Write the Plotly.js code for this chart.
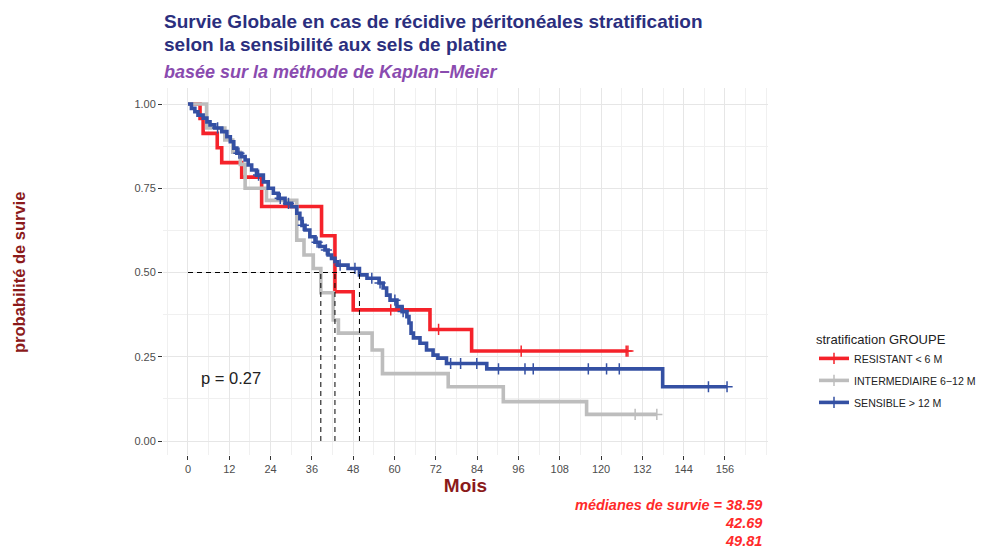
<!DOCTYPE html>
<html>
<head>
<meta charset="utf-8">
<script src="https://cdn.plot.ly/plotly-3.0.1.min.js"></script>
<style>html,body{margin:0;padding:0;background:#fff;}#chart{width:983px;height:550px;}</style>
</head>
<body>
<div id="chart"></div>
<script>
// ---- Data ----
const groupNames = ['RESISTANT < 6 M', 'INTERMEDIAIRE 6\u221212 M', 'SENSIBLE > 12 M'];

const resistantTime = [0, 3.5, 4.4, 8.5, 9.8, 15.6, 21.4, 38.8, 42.69, 48.0, 70.3, 82.4, 127.8];
const resistantSurv = [1, 0.957, 0.913, 0.870, 0.826, 0.783, 0.696, 0.609, 0.443, 0.389, 0.331, 0.267, 0.267];
const resistantCensor = [58.9, 72.8, 96.8, 127.3, 127.8];

const intermTime = [0, 5.4, 10.7, 13.0, 15.2, 16.6, 22.8, 31.6, 33.7, 36.4, 38.59, 42.2, 43.7, 53.5, 56.5, 75.6, 91.6, 115.8, 136.2];
const intermSurv = [1, 0.929, 0.893, 0.857, 0.821, 0.75, 0.714, 0.596, 0.552, 0.512, 0.44, 0.359, 0.32, 0.27, 0.2, 0.161, 0.117, 0.079, 0.079];
const intermCensor = [129.9, 136.2];

const sensibleTime = [0, 1.0, 2.0, 2.9, 4.4, 5.5, 6.4, 7.8, 9.8, 11.3, 12.3, 13.3, 14.2, 15.6, 16.6, 17.5, 18.5, 19.9, 21.9, 23.3, 24.8, 26.2, 28.2, 30.1, 31.6, 32.5, 33.1, 34.0, 35.4, 36.9, 38.3, 39.8, 40.7, 41.7, 42.7, 43.5, 46.5, 49.81, 52.0, 55.5, 56.7, 57.7, 58.7, 60.7, 62.2, 63.6, 64.2, 64.8, 65.5, 67.4, 69.3, 71.2, 72.6, 75.1, 86.8, 137.9, 156.6];
const sensibleSurv = [1, 0.987, 0.977, 0.967, 0.958, 0.947, 0.938, 0.929, 0.918, 0.903, 0.888, 0.869, 0.854, 0.844, 0.834, 0.819, 0.804, 0.789, 0.769, 0.75, 0.735, 0.72, 0.705, 0.695, 0.676, 0.66, 0.64, 0.626, 0.606, 0.59, 0.577, 0.567, 0.552, 0.542, 0.532, 0.522, 0.512, 0.493, 0.483, 0.469, 0.454, 0.433, 0.418, 0.399, 0.384, 0.369, 0.35, 0.32, 0.306, 0.29, 0.27, 0.255, 0.246, 0.23, 0.214, 0.161, 0.161];
const sensibleCensor = [8.6, 14.8, 20.5, 26.8, 29.2, 33.5, 37.5, 40.2, 44.2, 48.5, 53.4, 55.8, 60.1, 62.5, 76.3, 79.2, 83.9, 90.2, 97.9, 100.3, 116.3, 121.6, 125.3, 151.2, 156.6];

const medians = [38.59, 42.69, 49.81];
const pValueText = 'p = 0.27';
const xTicks = [0, 12, 24, 36, 48, 60, 72, 84, 96, 108, 120, 132, 144, 156];
const titleLines = ['Survie Globale en cas de r\u00e9cidive p\u00e9riton\u00e9ales stratification',
                    'selon la sensibilit\u00e9 aux sels de platine'];
const subtitleText = 'bas\u00e9e sur la m\u00e9thode de Kaplan\u2212Meier';

// ---- Styles ----
const colors = ['#F5222A', '#BDBDBD', '#3450A3'];
const FONT = 'Liberation Sans, Arial, Helvetica, sans-serif';

function stepAt(times, surv, t) {
  let v = surv[0];
  for (let i = 0; i < times.length; i++) { if (times[i] <= t) v = surv[i]; }
  return v;
}

const groups = [
  {t: resistantTime, s: resistantSurv, c: resistantCensor},
  {t: intermTime, s: intermSurv, c: intermCensor},
  {t: sensibleTime, s: sensibleSurv, c: sensibleCensor}
];

const traces = [];
groups.forEach((g, i) => {
  traces.push({
    type: 'scatter', mode: 'lines', x: g.t, y: g.s,
    line: {shape: 'hv', color: colors[i], width: 3.6},
    showlegend: false, hoverinfo: 'skip'
  });
  traces.push({
    type: 'scatter', mode: 'markers', x: g.c, y: g.c.map(t => stepAt(g.t, g.s, t)),
    marker: {symbol: 'cross-thin', size: 8, color: colors[i], line: {color: colors[i], width: 1.5}},
    showlegend: false, hoverinfo: 'skip'
  });
});
// legend entries
groups.forEach((g, i) => {
  traces.push({
    type: 'scatter', mode: 'lines+markers', x: [null], y: [null], name: groupNames[i],
    legendgroup: 'g' + i,
    line: {color: colors[i], width: 3.6},
    marker: {symbol: 'cross-thin', size: 8, color: colors[i], line: {color: colors[i], width: 1.5}}
  });
});

const shapes = [{
  type: 'line', xref: 'x', yref: 'y', x0: 0, x1: Math.max(...medians), y0: 0.5, y1: 0.5,
  line: {color: '#000', width: 1, dash: '5px,4px'}, layer: 'above'
}];
medians.forEach(m => shapes.push({
  type: 'line', xref: 'x', yref: 'y', x0: m, x1: m, y0: 0, y1: 0.5,
  line: {color: '#000', width: 1, dash: '5px,4px'}, layer: 'above'
}));

const L = 163, R = 215, T = 88, B = 95;
const PW = 983 - L - R, PH = 550 - T - B;
const px = x => (x - L) / PW;
const py = y => (550 - B - y) / PH;

const annotations = [
  {text: titleLines[0], xref: 'paper', yref: 'paper', x: px(162), y: py(21),
   xanchor: 'left', yanchor: 'middle', showarrow: false,
   font: {family: FONT, size: 19, color: '#2B2F7E', weight: 'bold'}},
  {text: titleLines[1], xref: 'paper', yref: 'paper', x: px(162), y: py(45),
   xanchor: 'left', yanchor: 'middle', showarrow: false,
   font: {family: FONT, size: 19, color: '#2B2F7E', weight: 'bold'}},
  {text: subtitleText, xref: 'paper', yref: 'paper', x: px(162), y: py(72),
   xanchor: 'left', yanchor: 'middle', showarrow: false,
   font: {family: FONT, size: 18, color: '#8A4BAF', style: 'italic', weight: 'bold'}},
  {text: 'probabilit\u00e9 de survie', xref: 'paper', yref: 'paper', x: px(19), y: py(273),
   xanchor: 'center', yanchor: 'middle', textangle: -90, showarrow: false,
   font: {family: FONT, size: 16.5, color: '#8B1A1A', weight: 'bold'}},
  {text: pValueText, xref: 'x', yref: 'y', x: 3.3, y: 0.187, xanchor: 'left', yanchor: 'middle', showarrow: false,
   font: {family: FONT, size: 16.5, color: '#222'}},
  {text: 'm\u00e9dianes de survie = ' + medians[0].toFixed(2), xref: 'paper', yref: 'paper', x: px(764), y: py(505),
   xanchor: 'right', yanchor: 'middle', showarrow: false,
   font: {family: FONT, size: 14.5, color: '#FF2A2A', style: 'italic', weight: 'bold'}},
  {text: medians[1].toFixed(2), xref: 'paper', yref: 'paper', x: px(764), y: py(523),
   xanchor: 'right', yanchor: 'middle', showarrow: false,
   font: {family: FONT, size: 14.5, color: '#FF2A2A', style: 'italic', weight: 'bold'}},
  {text: medians[2].toFixed(2), xref: 'paper', yref: 'paper', x: px(764), y: py(541),
   xanchor: 'right', yanchor: 'middle', showarrow: false,
   font: {family: FONT, size: 14.5, color: '#FF2A2A', style: 'italic', weight: 'bold'}}
];

const layout = {
  width: 983, height: 550,
  margin: {l: L, r: R, t: T, b: B, pad: 0, autoexpand: false},
  paper_bgcolor: '#fff', plot_bgcolor: '#fff',
  font: {family: FONT, color: '#333'},
  xaxis: {
    range: [-7.26, 168.5], tickvals: xTicks, ticktext: xTicks.map(String),
    ticks: 'outside', ticklen: 4, tickwidth: 1, tickcolor: '#333',
    tickfont: {family: FONT, size: 11, color: '#4D4D4D'},
    showgrid: true, gridcolor: '#E6E6E6', gridwidth: 1,
    minor: {dtick: 6, tick0: 0, showgrid: true, gridcolor: '#F0F0F0', gridwidth: 1, ticks: ''},
    zeroline: false, showline: false, automargin: false,
    title: {text: 'Mois', font: {family: FONT, size: 19, color: '#8B1A1A', weight: 'bold'}, standoff: 4}
  },
  yaxis: {
    range: [-0.0415, 1.0475], tick0: 0, dtick: 0.25, tickformat: '.2f',
    ticks: 'outside', ticklen: 4, tickwidth: 1, tickcolor: '#333',
    tickfont: {family: FONT, size: 11, color: '#4D4D4D'},
    showgrid: true, gridcolor: '#E6E6E6', gridwidth: 1,
    minor: {dtick: 0.125, tick0: 0, showgrid: true, gridcolor: '#F0F0F0', gridwidth: 1, ticks: ''},
    zeroline: false, showline: false, automargin: false
  },
  legend: {
    x: px(814), y: py(327), xanchor: 'left', yanchor: 'top',
    title: {text: 'stratification GROUPE', font: {family: FONT, size: 13, color: '#222'}},
    font: {family: FONT, size: 10.6, color: '#222'},
    itemwidth: 30, tracegroupgap: 3, bgcolor: 'rgba(0,0,0,0)'
  },
  shapes: shapes,
  annotations: annotations
};

Plotly.newPlot('chart', traces, layout, {displayModeBar: false, staticPlot: true});
</script>
</body>
</html>
